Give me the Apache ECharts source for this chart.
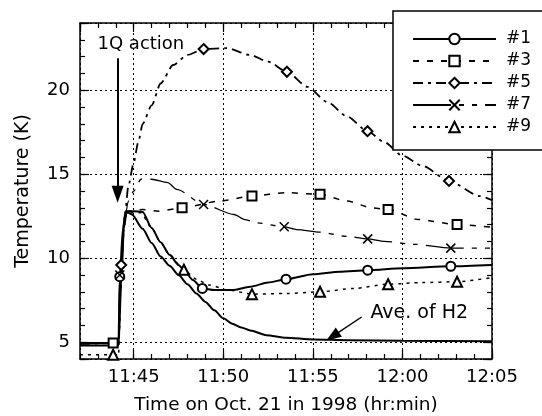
<!DOCTYPE html>
<html><head><meta charset="utf-8">
<script src="https://cdn.jsdelivr.net/npm/echarts@6/dist/echarts.min.js"></script>
<style>html,body{margin:0;padding:0;background:#fff}#c{width:542px;height:416px}</style>
</head><body><div id="c"></div>
<script>
// ---- data (time = minutes after 11:00, temperature in K) ----
const seriesNames = ['#1', '#3', '#5', '#7', '#9'];

const t1 = [42.0, 43.0, 44.0, 44.15, 44.22, 44.4, 44.55, 45.0, 45.5, 46.0, 46.5, 47.0, 47.5, 47.8, 48.3, 48.83, 49.5, 50.5, 51.5, 52.5, 53.5, 55.0, 56.5, 58.06, 60.0, 62.7, 65.0];
const v1 = [4.95, 4.95, 4.95, 5.0, 8.9, 11.8, 12.8, 12.8, 12.75, 11.8, 10.95, 10.2, 9.6, 9.3, 8.7, 8.2, 8.1, 8.1, 8.3, 8.55, 8.75, 9.05, 9.2, 9.29, 9.4, 9.52, 9.6];
const m1 = [4, 15, 20, 23, 25];

const t3 = [42.0, 43.85, 44.15, 44.3, 44.5, 44.7, 45.5, 46.4, 47.7, 49.8, 51.6, 53.5, 55.4, 56.9, 58.3, 59.2, 60.9, 63.05, 65.0];
const v3 = [4.95, 4.95, 5.0, 9.6, 12.3, 12.8, 12.9, 12.8, 13.0, 13.4, 13.7, 13.9, 13.8, 13.4, 13.0, 12.9, 12.3, 12.0, 11.85];
const m3 = [1, 8, 10, 12, 15, 17];

const t5 = [42.0, 44.15, 44.3, 44.5, 44.7, 45.0, 45.25, 45.5, 46.0, 46.5, 47.2, 48.0, 48.9, 50.2, 51.5, 52.5, 53.55, 54.7, 55.8, 56.9, 58.05, 59.0, 60.0, 61.1, 62.6, 64.3, 65.0];
const v5 = [4.9, 4.95, 9.6, 12.5, 14.3, 15.7, 16.9, 18.0, 19.1, 20.4, 21.5, 22.1, 22.45, 22.5, 22.1, 21.7, 21.1, 20.2, 19.3, 18.45, 17.56, 16.9, 16.1, 15.5, 14.6, 13.7, 13.45];
const m5 = [2, 12, 16, 20, 24];

const t7 = [42.0, 44.15, 44.22, 44.45, 44.7, 45.0, 45.4, 46.0, 46.9, 47.4, 48.9, 50.6, 51.2, 51.9, 53.4, 54.1, 55.4, 56.9, 58.06, 59.0, 60.6, 62.7, 65.0];
const v7 = [4.9, 4.95, 9.0, 12.0, 13.4, 14.0, 14.7, 14.7, 14.5, 14.1, 13.2, 12.6, 12.3, 12.1, 11.87, 11.7, 11.55, 11.3, 11.15, 11.0, 10.83, 10.6, 10.6];
const m7 = [2, 10, 14, 18, 21];

const t9 = [42.0, 43.85, 44.15, 44.3, 44.45, 44.6, 45.4, 46.0, 46.5, 47.0, 47.8, 48.5, 49.2, 50.3, 51.6, 53.5, 55.4, 57.3, 59.2, 61.1, 63.05, 65.0];
const v9 = [4.25, 4.25, 4.3, 9.0, 11.8, 12.7, 12.7, 11.8, 10.95, 10.2, 9.31, 8.75, 8.4, 8.1, 7.86, 7.9, 8.0, 8.2, 8.45, 8.55, 8.6, 8.85];
const m9 = [1, 10, 14, 16, 18, 20];

const tAve = [42.0, 44.15, 44.3, 44.45, 44.6, 44.9, 45.5, 46.0, 46.5, 47.0, 47.5, 48.0, 48.5, 49.0, 49.5, 50.0, 50.5, 51.0, 51.5, 52.4, 53.5, 55.0, 57.0, 60.0, 65.0];
const vAve = [4.8, 4.8, 8.5, 11.8, 12.75, 12.6, 11.75, 10.9, 10.1, 9.55, 9.0, 8.45, 7.9, 7.4, 6.9, 6.42, 6.1, 5.88, 5.7, 5.42, 5.27, 5.16, 5.12, 5.08, 5.05];

// annotations (data coordinates)
const arrow1Q = [[44.1, 21.9], [44.1, 13.8]];
const text1Q = [45.4, 22.75];
const arrowAve = [[57.72, 6.5], [56.1, 5.35]];
const textAve = [60.94, 6.74];

const xMin = 42, xMax = 65, yMin = 4, yMax = 24;

// ---- chart ----
const FONT = '"DejaVu Sans", sans-serif';
const BLACK = '#000';
function fmtTime(v) {
  const r = Math.round(v);
  const h = 11 + Math.floor(r / 60), m = r % 60;
  return h + ':' + String(m).padStart(2, '0');
}
const isMult5 = v => Math.abs(v - Math.round(v / 5) * 5) < 1e-6;
const CROSS = 'path://M0,0L10,10M10,0L0,10';

function mkSeries(name, ts, vs, marks, sym, dash, width, size) {
  return {
    name, type: 'line', xAxisIndex: 0, yAxisIndex: 0,
    data: ts.map((t, i) => ({ value: [t, vs[i]], symbol: marks.indexOf(i) >= 0 ? sym : 'none' })),
    symbol: sym, symbolSize: size, showSymbol: true, showAllSymbol: true,
    smooth: 0.25, smoothMonotone: 'x',
    lineStyle: { color: BLACK, width: width, type: dash },
    itemStyle: { color: sym === CROSS ? 'none' : BLACK, borderColor: BLACK, borderWidth: 1.5 },
    emphasis: { disabled: true }, silent: true, z: 3
  };
}

const series = [
  mkSeries('#1', t1, v1, m1, 'emptyCircle', 'solid', 2, 9),
  mkSeries('#3', t3, v3, m3, 'emptyRect', [6, 8], 1.5, 9),
  mkSeries('#5', t5, v5, m5, 'emptyDiamond', [10, 5, 3, 5], 1.8, 10),
  mkSeries('#7', t7, v7, m7, CROSS, [38, 8, 5, 8, 5, 8], 1.3, 9),
  mkSeries('#9', t9, v9, m9, 'emptyTriangle', [3, 5], 1.5, 10),
  {
    name: 'Ave. of H2', type: 'line', xAxisIndex: 0, yAxisIndex: 0,
    data: tAve.map((t, i) => [t, vAve[i]]),
    showSymbol: false, smooth: 0.25, smoothMonotone: 'x',
    lineStyle: { color: BLACK, width: 2 }, itemStyle: { color: BLACK },
    emphasis: { disabled: true }, silent: true, z: 3,
    markLine: {
      silent: true, animation: false,
      lineStyle: { color: BLACK, type: 'solid' },
      label: { show: false },
      data: [
        [{ coord: arrow1Q[0], symbol: 'none', lineStyle: { width: 2, color: BLACK, type: 'solid' } },
         { coord: arrow1Q[1], symbol: 'triangle', symbolSize: [12, 17] }],
        [{ coord: arrowAve[0], symbol: 'none', lineStyle: { width: 1.5, color: BLACK, type: 'solid' } },
         { coord: arrowAve[1], symbol: 'triangle', symbolSize: [11, 15] }]
      ]
    },
    markPoint: {
      silent: true, animation: false, symbol: 'circle', symbolSize: 0,
      itemStyle: { color: 'transparent' },
      data: [
        { coord: text1Q, label: { show: true, position: 'inside', formatter: '1Q action', fontSize: 18, color: BLACK, fontFamily: FONT } },
        { coord: textAve, label: { show: true, position: 'inside', formatter: 'Ave. of H2', fontSize: 19, color: BLACK, fontFamily: FONT } }
      ]
    }
  }
];

const axisLine = { show: true, onZero: false, lineStyle: { color: BLACK, width: 1.5 } };
const gridLine = { show: true, lineStyle: { color: BLACK, width: 1, type: [2, 3] } };
const labelStyle = { fontSize: 18, color: BLACK, fontFamily: FONT };

function xAx(pos, major) {
  const a = {
    type: 'value', position: pos, min: xMin, max: xMax,
    axisLine: major ? axisLine : { show: false },
    axisTick: { show: true, inside: true, length: major ? 9 : 5, lineStyle: { color: BLACK, width: 1.2 } },
    axisLabel: { show: false }, splitLine: { show: false }
  };
  if (major) a.splitNumber = 5; else a.interval = 1;
  return a;
}
function yAx(pos, major) {
  const a = {
    type: 'value', position: pos, min: yMin, max: yMax,
    axisLine: major ? axisLine : { show: false },
    axisTick: { show: true, inside: true, length: major ? 9 : 5, lineStyle: { color: BLACK, width: 1.2 } },
    axisLabel: { show: false }, splitLine: { show: false }
  };
  if (major) a.splitNumber = 4; else a.interval = 1;
  return a;
}

const xMain = xAx('bottom', true);
xMain.axisLabel = Object.assign({ show: true, margin: 9, showMinLabel: false, showMaxLabel: true,
  formatter: v => isMult5(v) ? fmtTime(v) : '' }, labelStyle);
xMain.splitLine = gridLine;
xMain.name = 'Time on Oct. 21 in 1998 (hr:min)';
xMain.nameLocation = 'middle';
xMain.nameGap = 37;
xMain.nameTextStyle = { fontSize: 18.5, color: BLACK, fontFamily: FONT };

const yMain = yAx('left', true);
yMain.axisLabel = Object.assign({ show: true, margin: 10, formatter: v => isMult5(v) ? String(Math.round(v)) : '' }, labelStyle);
yMain.splitLine = gridLine;
yMain.name = 'Temperature (K)';
yMain.nameLocation = 'middle';
yMain.nameGap = 47;
yMain.nameTextStyle = { fontSize: 19, color: BLACK, fontFamily: FONT };

const option = {
  animation: false,
  backgroundColor: '#fff',
  textStyle: { fontFamily: FONT },
  grid: { left: 80, right: 50, top: 23, bottom: 57, containLabel: false, outerBoundsMode: 'none' },
  xAxis: [xMain, xAx('top', true), xAx('bottom', false), xAx('top', false)],
  yAxis: [yMain, yAx('right', true), yAx('left', false), yAx('right', false)],
  legend: {
    data: seriesNames, orient: 'vertical', left: 393, top: 11,
    padding: [18, 30, 13, 19], itemGap: 2, itemWidth: 83, itemHeight: 13,
    backgroundColor: '#fff', borderColor: BLACK, borderWidth: 1.5,
    selectedMode: false,
    textStyle: { fontSize: 17, color: BLACK, fontFamily: FONT, lineHeight: 20, padding: [0, 0, 0, 5] }
  },
  series: series
};

const chart = echarts.init(document.getElementById('c'), null, { renderer: 'canvas' });
chart.setOption(option);
</script>
</body></html>
